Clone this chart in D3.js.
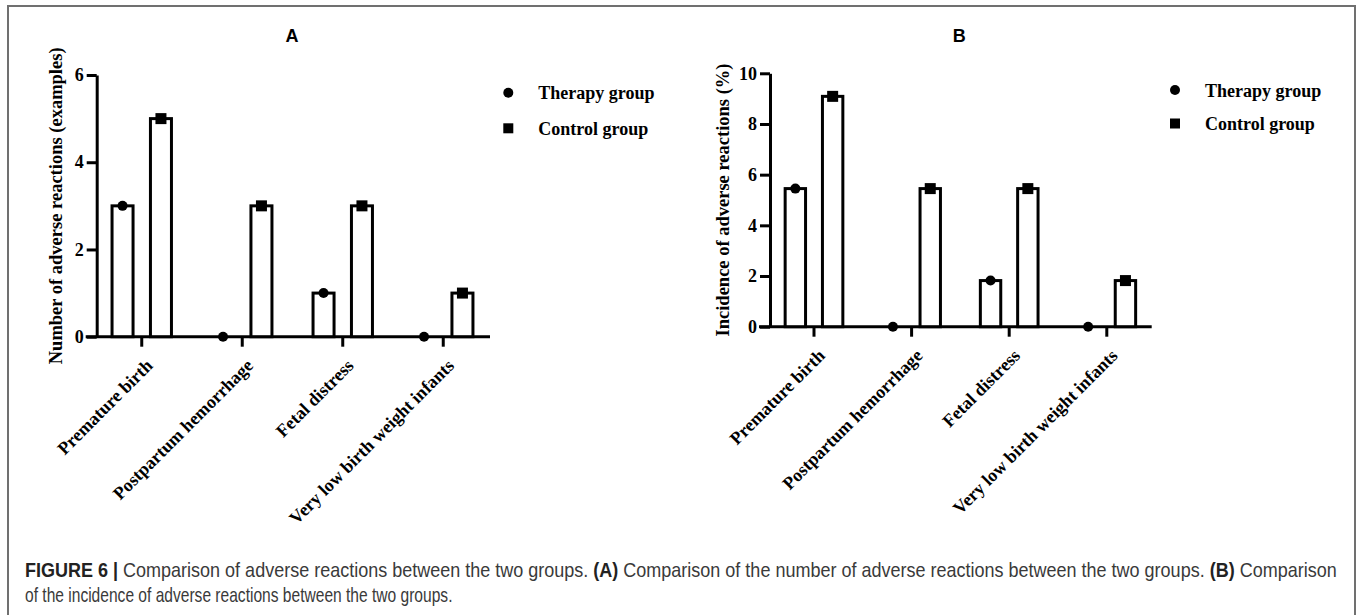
<!DOCTYPE html>
<html>
<head>
<meta charset="utf-8">
<script src="https://cdn.jsdelivr.net/npm/d3@7"></script>
<style>
  html, body { margin: 0; padding: 0; background: #fff; }
  svg { display: block; }
</style>
</head>
<body>
<svg id="chart" width="1357" height="615"></svg>
<script>
// ---------- data ----------
const categories = ["Premature birth", "Postpartum hemorrhage", "Fetal distress", "Very low birth weight infants"];
const groups = ["Therapy group", "Control group"];
const countTherapy = [3, 0, 1, 0];
const countControl = [5, 3, 3, 1];
const incidenceTherapy = [5.45, 0, 1.82, 0];
const incidenceControl = [9.09, 5.45, 5.45, 1.82];
const ticksA = [0, 2, 4, 6];
const ticksB = [0, 2, 4, 6, 8, 10];
const titleA = "A";
const titleB = "B";
const yLabelA = "Number of adverse reactions (examples)";
const yLabelB = "Incidence of adverse reactions (%)";

const serif = "'Liberation Serif','Times New Roman',Times,serif";
const sans = "'Liberation Sans',Arial,Helvetica,sans-serif";

const svg = d3.select("#chart");
svg.append("rect").attr("width", 1357).attr("height", 615).attr("fill", "#fff");

// outer frame
svg.append("rect")
  .attr("x", 8).attr("y", 6).attr("width", 1347).attr("height", 700)
  .attr("fill", "none").attr("stroke", "#707070").attr("stroke-width", 2);

function drawPanel(cfg) {
  const g = svg.append("g");
  const y = d3.scaleLinear().domain([0, d3.max(cfg.ticks)]).range(cfg.yRange);
  const x0 = d3.scaleBand().domain(categories).range(cfg.bandRange).padding(0);
  const x1 = d3.scaleBand().domain(groups).range([0, x0.bandwidth()])
    .paddingInner(0.453).paddingOuter(0.535);

  const tickLen = 10;
  g.append("line")
    .attr("x1", cfg.axisX - tickLen - 1).attr("x2", cfg.xLineEnd)
    .attr("y1", y(0)).attr("y2", y(0))
    .attr("stroke", "#000").attr("stroke-width", 3);

  const series = [cfg.therapy, cfg.control];
  const rows = [];
  categories.forEach((c, i) => groups.forEach((gr, j) => rows.push({cat: c, grp: gr, j, v: series[j][i]})));

  g.selectAll("rect.bar").data(rows.filter(d => d.v > 0)).join("rect")
    .attr("class", "bar")
    .attr("x", d => x0(d.cat) + x1(d.grp))
    .attr("width", x1.bandwidth())
    .attr("y", d => y(d.v))
    .attr("height", d => y(0) - y(d.v))
    .attr("fill", "#fff").attr("stroke", "#000").attr("stroke-width", 3);

  const sq = 11;
  g.selectAll("circle.mk").data(rows.filter(d => d.j === 0)).join("circle")
    .attr("class", "mk")
    .attr("cx", d => x0(d.cat) + x1(d.grp) + x1.bandwidth() / 2)
    .attr("cy", d => y(d.v)).attr("r", 5).attr("fill", "#000");
  g.selectAll("rect.mk").data(rows.filter(d => d.j === 1)).join("rect")
    .attr("class", "mk")
    .attr("x", d => x0(d.cat) + x1(d.grp) + x1.bandwidth() / 2 - sq / 2)
    .attr("y", d => y(d.v) - sq / 2).attr("width", sq).attr("height", sq).attr("fill", "#000");

  const ya = g.append("g").attr("transform", `translate(${cfg.axisX},0)`)
    .call(d3.axisLeft(y).tickValues(cfg.ticks).tickFormat(d3.format("d"))
      .tickSize(tickLen).tickSizeOuter(0).tickPadding(3));
  ya.select(".domain").attr("stroke-width", 3);
  ya.selectAll(".tick line").attr("stroke-width", 3);
  ya.selectAll(".tick text").attr("font-family", serif).attr("font-weight", "bold")
    .attr("font-size", 18).attr("fill", "#000");

  const xa = g.append("g").attr("transform", `translate(0,${y(0)})`)
    .call(d3.axisBottom(x0).tickSize(tickLen).tickSizeOuter(0));
  xa.select(".domain").remove();
  xa.selectAll(".tick line").attr("stroke-width", 3);
  xa.selectAll(".tick text")
    .attr("x", 0).attr("y", 0).attr("dy", 0)
    .attr("transform", "translate(12,30) rotate(-45)")
    .attr("text-anchor", "end")
    .attr("font-family", serif).attr("font-weight", "bold")
    .attr("font-size", 18).attr("fill", "#000");

  const yMid = (cfg.yRange[0] + cfg.yRange[1]) / 2;
  g.append("text")
    .attr("transform", `translate(${cfg.yLabelX},${yMid}) rotate(-90)`)
    .attr("text-anchor", "middle")
    .attr("font-family", serif).attr("font-weight", "bold").attr("font-size", 18.5)
    .text(cfg.yLabel);

  g.append("text").attr("x", cfg.titleX).attr("y", 41.7)
    .attr("text-anchor", "middle").attr("font-family", sans)
    .attr("font-weight", "bold").attr("font-size", 18).text(cfg.title);

  const lg = g.append("g").attr("transform", `translate(${cfg.legX},${cfg.legY})`);
  groups.forEach((gr, j) => {
    const row = lg.append("g").attr("transform", `translate(0,${j * cfg.legGap})`);
    if (j === 0) row.append("circle").attr("r", 5).attr("fill", "#000");
    else row.append("rect").attr("x", -5).attr("y", -5).attr("width", 10).attr("height", 10).attr("fill", "#000");
    row.append("text").attr("x", 30).attr("y", 6.6)
      .attr("font-family", serif).attr("font-weight", "bold").attr("font-size", 18)
      .text(gr);
  });
}

drawPanel({
  therapy: countTherapy, control: countControl, ticks: ticksA,
  yRange: [336.7, 75], bandRange: [91.5, 493.5], axisX: 96.7, xLineEnd: 490,
  yLabel: yLabelA, yLabelX: 62, title: titleA, titleX: 292,
  legX: 508.3, legY: 92.7, legGap: 35.6
});
drawPanel({
  therapy: incidenceTherapy, control: incidenceControl, ticks: ticksB,
  yRange: [326.7, 73.3], bandRange: [765.2, 1155.6], axisX: 770, xLineEnd: 1151.7,
  yLabel: yLabelB, yLabelX: 729, title: titleB, titleX: 959.3,
  legX: 1175, legY: 90, legGap: 33.5
});

// caption
const captionLine1 = [
  {t: "FIGURE 6 |", b: true},
  {t: " Comparison of adverse reactions between the two groups. ", b: false},
  {t: "(A)", b: true},
  {t: " Comparison of the number of adverse reactions between the two groups. ", b: false},
  {t: "(B)", b: true},
  {t: " Comparison", b: false}
];
const captionLine2 = "of the incidence of adverse reactions between the two groups.";

function captionText(parts) {
  const t = svg.append("text")
    .attr("font-family", sans).attr("font-size", 20).attr("fill", "#3a3a3a")
    .style("white-space", "pre");
  t.selectAll("tspan").data(parts).join("tspan")
    .attr("font-weight", d => d.b ? "bold" : "normal")
    .attr("fill", d => d.b ? "#222" : "#3a3a3a")
    .text(d => d.t);
  return t;
}
const c1 = captionText(captionLine1);
const k1 = 1313 / c1.node().getComputedTextLength();
c1.attr("transform", `translate(25,576.7) scale(${k1},1)`);
const c2 = captionText([{t: captionLine2, b: false}]);
const k2 = 428 / c2.node().getComputedTextLength();
c2.attr("transform", `translate(25,601.5) scale(${k2},1)`);
</script>
</body>
</html>
